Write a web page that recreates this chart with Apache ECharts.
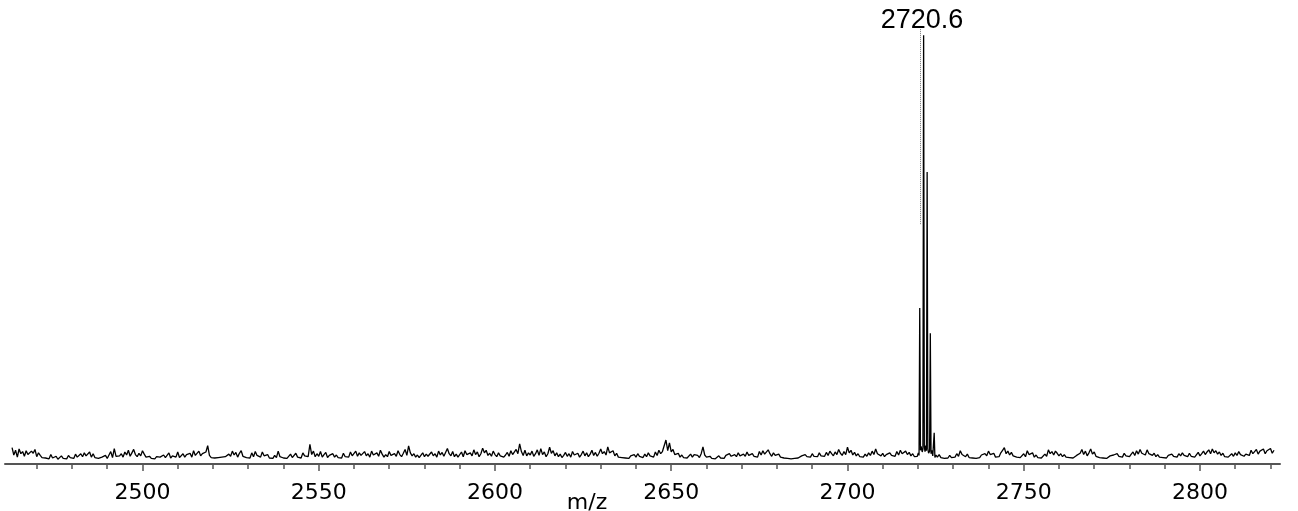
<!DOCTYPE html>
<html><head><meta charset="utf-8">
<script src="https://cdn.jsdelivr.net/npm/echarts@6/dist/echarts.min.js"></script>
<style>html,body{margin:0;padding:0;background:#fff}#c{width:1298px;height:511px}</style>
</head><body><div id="c"></div>
<script>
// axis
const xMin = 2461, xMax = 2822.7;
const majorTicks = [2500, 2550, 2600, 2650, 2700, 2750, 2800];
const minorTicks = [2470,2480,2490,2510,2520,2530,2540,2560,2570,2580,2590,2610,2620,2630,2640,2660,2670,2680,2690,2710,2720,2730,2740,2760,2770,2780,2790,2810,2820];
const axisTitle = 'm/z';

// baseline noise before the isotope cluster: m/z 2463.0 .. 2719.5, step 0.5
const noiseAStart = 2463, noiseStep = 0.5;
const noiseA = [
3.8,2.1,3.2,1.6,3.5,2.4,2.9,1.8,3.1,2.2,1.9,3.0,2.5,3.4,1.7,2.6,2.0,1.5,1.9,1.4,
1.6,1.2,2.2,1.4,1.3,1.8,1.1,1.5,1.9,1.3,1.6,1.2,2.0,1.5,1.7,1.3,2.3,1.6,1.8,2.4,
1.7,2.6,1.9,2.2,2.8,1.6,2.4,1.5,1.8,1.3,1.2,1.6,1.4,2.0,1.3,1.7,2.9,1.5,3.6,1.8,
1.4,1.9,2.4,1.6,2.8,2.1,3.2,1.8,2.6,3.4,2.2,1.7,2.5,1.9,3.1,2.3,1.6,1.4,1.8,1.3,
1.5,1.2,1.7,1.4,1.6,1.3,2.1,1.5,1.8,2.6,1.4,1.9,2.3,1.6,2.8,1.5,1.7,2.4,1.6,2.2,
1.8,2.5,1.6,3.1,2.0,1.7,3.0,1.9,2.4,2.2,2.8,4.3,2.0,1.5,1.3,1.4,1.2,1.5,1.3,1.6,
1.4,1.7,1.5,2.3,1.8,3.0,2.1,2.7,1.6,2.5,3.1,1.8,2.2,1.5,1.9,1.4,2.6,1.7,2.9,2.0,
2.4,1.6,2.8,1.9,1.5,2.2,1.4,1.7,1.3,2.0,1.5,3.0,1.7,2.1,1.4,1.8,1.3,1.6,2.3,1.5,
1.8,2.5,1.6,2.0,1.4,2.6,1.9,2.2,1.7,4.6,2.2,3.0,1.7,2.4,1.8,2.9,1.6,2.2,2.7,1.5,
2.0,1.7,2.4,1.6,2.1,1.5,1.8,1.4,2.5,1.7,2.0,1.6,2.8,1.9,2.3,3.0,1.8,2.6,2.0,1.7,
2.9,1.9,2.4,1.6,3.0,2.1,1.7,2.6,1.8,3.2,2.3,1.6,2.2,1.7,2.9,2.0,1.6,2.4,1.8,3.1,
2.2,1.7,2.5,3.4,2.0,4.2,2.6,1.9,2.4,1.6,2.1,1.5,1.9,2.6,1.7,2.3,1.8,1.5,2.8,1.9,
2.4,1.6,3.0,2.1,2.7,1.8,2.2,3.6,2.4,1.9,2.9,1.7,2.3,1.6,2.0,2.8,1.7,3.1,2.2,1.8,
2.6,1.9,3.3,2.2,2.8,1.7,2.4,3.7,2.6,3.2,2.0,2.5,1.8,3.0,2.2,1.7,2.6,1.9,2.3,1.6,
2.1,2.7,1.8,3.1,2.2,2.6,3.4,2.4,4.7,2.9,2.0,3.2,1.9,2.6,2.1,3.0,1.8,2.4,3.3,2.0,
3.6,2.2,2.8,1.7,2.4,3.9,2.5,3.1,1.9,2.6,1.7,2.3,1.5,2.0,2.7,1.8,2.4,1.6,2.9,2.1,
1.8,2.5,1.6,2.2,3.0,1.9,2.6,1.7,2.3,3.2,2.0,2.7,1.8,2.5,3.5,2.4,2.9,2.1,4.0,2.6,
2.2,3.1,1.9,2.5,1.6,2.0,1.5,1.8,1.4,1.7,1.3,1.9,1.5,2.2,1.6,2.4,1.8,2.0,1.5,2.3,
1.7,2.6,1.9,2.2,1.6,2.8,2.0,3.2,2.4,2.9,2.6,5.6,3.1,4.9,2.8,3.4,2.2,1.8,2.5,1.6,
2.1,1.5,1.9,1.4,1.7,2.3,1.6,2.2,1.8,2.0,1.5,2.4,4.0,2.1,1.6,1.4,1.8,1.3,1.6,1.2,
1.5,1.9,1.4,1.7,1.3,2.0,1.6,2.4,1.8,1.5,2.2,1.7,2.6,1.9,1.6,2.3,1.8,2.8,2.0,1.7,
2.4,1.8,2.2,1.6,2.9,2.1,3.1,2.3,1.9,3.3,2.4,1.8,2.6,2.0,1.7,2.3,1.6,2.0,1.4,1.7,
1.3,1.6,1.2,1.5,1.3,1.7,1.4,1.6,1.9,1.5,2.2,1.7,2.0,1.6,2.4,1.8,2.1,1.7,2.6,1.9,
2.3,1.8,2.7,2.0,3.0,2.4,1.9,2.8,2.2,3.4,2.5,2.0,2.9,2.2,3.9,2.6,3.2,2.1,2.7,1.9,
2.4,1.7,2.1,1.6,2.3,1.8,2.6,2.0,3.0,2.2,3.5,2.4,2.8,1.9,2.5,1.7,2.2,1.8,2.6,2.0,
2.3,1.8,2.9,2.1,3.2,2.4,2.8,3.0,2.2,2.7,1.9,2.4,1.7,2.1
];

// isotope cluster
const clusterMz  = [2719.8,2720.1,2720.3,2720.5,2720.7,2720.9,2721.2,2721.4,2721.6,2721.8,2722.0,2722.2,2722.4,2722.6,2722.8,2723.0,2723.3,2723.5,2723.7,2723.9,2724.2,2724.4,2724.6,2724.8,2725.1];
const clusterInt = [1.8,2.6,2.0,36.4,3.2,4.1,2.8,3.5,100,4.0,2.9,4.3,3.1,68.1,3.6,2.5,3.0,30.5,2.4,3.2,1.9,1.7,7.3,1.5,2.1];

// baseline noise after the cluster: m/z 2725.5 .. 2821.0, step 0.5
const noiseBStart = 2725.5;
const noiseB = [
1.6,2.2,1.5,1.8,1.3,1.7,1.4,2.0,1.5,1.9,1.6,2.4,1.8,3.1,2.2,2.6,1.7,2.3,1.5,1.9,
1.4,1.8,1.3,1.6,1.5,2.1,1.7,2.4,1.9,3.0,2.2,1.8,2.5,1.6,2.0,1.7,2.6,3.2,3.8,2.4,
3.0,2.1,2.7,1.9,2.3,1.6,2.0,1.5,1.8,2.4,1.7,3.1,2.2,1.8,2.6,1.6,2.1,1.5,1.9,1.4,
1.7,2.3,1.8,3.3,2.4,2.9,2.1,3.0,2.5,1.9,2.4,1.7,2.2,1.6,1.9,1.5,1.8,1.4,1.7,2.0,
1.8,2.5,3.4,2.2,3.0,1.9,2.6,3.5,2.3,2.8,1.8,2.1,1.5,1.8,1.4,1.7,1.3,1.6,1.9,1.5,
2.1,1.7,2.4,1.8,2.2,1.6,2.5,1.9,2.0,1.7,2.3,2.8,2.0,3.1,2.3,3.4,2.5,2.9,2.1,3.3,
2.4,2.8,2.0,2.5,1.7,2.2,1.6,1.9,1.5,1.8,1.4,2.0,1.6,2.3,1.8,2.1,1.6,2.4,1.9,2.6,
2.0,2.3,1.7,2.5,1.8,2.2,1.6,2.0,2.7,1.9,2.4,3.0,2.2,2.8,3.3,2.4,3.5,2.6,3.1,2.3,
2.8,2.0,2.5,1.7,2.1,1.6,1.9,2.4,1.8,2.6,2.0,2.9,2.2,2.5,1.8,2.3,2.7,2.0,3.2,2.4,
2.9,3.4,2.3,3.0,2.6,3.5,2.4,3.1,2.7,3.6,2.5,3.2
];

// annotated peak
const peakLabelMz = 2720.6;
const peakLabelText = '2720.6';
const peakMarkTop = 101.4, peakMarkBottom = 55.7;

const data = [];
noiseA.forEach((v, i) => data.push([noiseAStart + i * noiseStep, v]));
clusterMz.forEach((m, i) => data.push([m, clusterInt[i]]));
noiseB.forEach((v, i) => data.push([noiseBStart + i * noiseStep, v]));

const chart = echarts.init(document.getElementById('c'), null, {renderer: 'canvas'});
chart.setOption({
  animation: false,
  backgroundColor: '#fff',
  grid: {left: 5, right: 18, top: 18, bottom: 47, containLabel: false, outerBoundsMode: 'none'},
  xAxis: [{
    type: 'value', min: xMin, max: xMax, position: 'bottom',
    axisLine: {show: true, onZero: false, lineStyle: {color: '#555', width: 2}},
    axisTick: {show: true, customValues: majorTicks, length: 7, lineStyle: {color: '#555', width: 1.5}},
    axisLabel: {customValues: majorTicks, formatter: v => String(v), fontFamily: 'DejaVu Sans', fontSize: 22, color: '#000', margin: 18},
    splitLine: {show: false},
    name: axisTitle, nameLocation: 'middle', nameGap: 28, nameMoveOverlap: false,
    nameTextStyle: {fontFamily: 'DejaVu Sans', fontSize: 22, color: '#000', padding: [0, 111, 0, 0]}
  }, {
    type: 'value', min: xMin, max: xMax, position: 'bottom',
    axisLine: {show: false, onZero: false},
    axisTick: {show: true, customValues: minorTicks, length: 5, lineStyle: {color: '#555', width: 1.5}},
    axisLabel: {show: false},
    splitLine: {show: false}
  }],
  yAxis: {type: 'value', min: 0, max: 104, show: false},
  series: [{
    type: 'line', xAxisIndex: 0, data: data,
    showSymbol: false, symbol: 'none', sampling: null, clip: false,
    lineStyle: {color: '#000', width: 1.3},
    emphasis: {disabled: true},
    markLine: {
      silent: true, symbol: ['none', 'none'],
      lineStyle: {type: 'dotted', color: '#777', width: 1},
      label: {show: true, position: 'start', formatter: peakLabelText,
        fontFamily: 'Liberation Sans', fontSize: 27, color: '#000', distance: 0, offset: [2, 5]},
      emphasis: {disabled: true},
      data: [[{coord: [peakLabelMz, peakMarkTop]}, {coord: [peakLabelMz, peakMarkBottom]}]]
    }
  }]
});
</script></body></html>
